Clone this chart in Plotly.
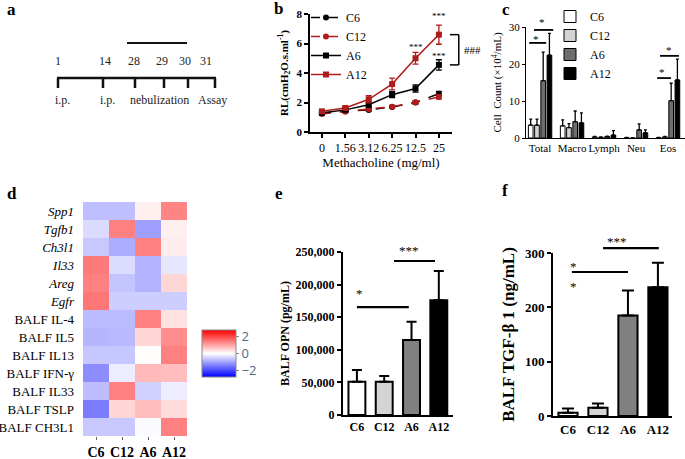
import plotly.graph_objects as go

W, H = 685, 459
SERIF = "Liberation Serif, Times New Roman, serif"

# ---------------- data ----------------
# panel a: protocol timeline
tl_days = ["1", "14", "28", "29", "30", "31"]
tl_events = ["i.p.", "i.p.", "nebulization", "Assay"]

# panel b: airway resistance
mch_doses = ["0", "1.56", "3.12", "6.25", "12.5", "25"]
rl_C6 = [1.30, 1.42, 1.50, 1.70, 2.00, 2.60]
rl_C12 = [1.22, 1.38, 1.55, 1.72, 2.02, 2.38]
rl_A6 = [1.29, 1.50, 1.85, 2.53, 2.95, 4.55]
rl_A12 = [1.40, 1.63, 2.22, 3.25, 5.00, 6.60]
rl_C6_err = [0.08, 0.08, 0.08, 0.08, 0.10, 0.15]
rl_C12_err = [0.08, 0.08, 0.08, 0.08, 0.10, 0.15]
rl_A6_err = [0.08, 0.10, 0.15, 0.20, 0.25, 0.35]
rl_A12_err = [0.08, 0.10, 0.25, 0.40, 0.40, 0.65]

# panel c: BALF cell counts
cell_types = ["Total", "Macro", "Lymph", "Neu", "Eos"]
cc_C6 = [3.5, 3.3, 0.3, 0.1, 0.1]
cc_C12 = [3.5, 2.8, 0.2, 0.0, 0.3]
cc_A6 = [15.5, 4.4, 0.4, 2.2, 10.1]
cc_A12 = [22.4, 4.1, 0.8, 1.4, 15.7]
cc_C6_err = [1.6, 1.6, 0.1, 0.05, 0.05]
cc_C12_err = [1.6, 1.1, 0.1, 0.0, 0.1]
cc_A6_err = [7.7, 2.9, 0.1, 1.6, 4.7]
cc_A12_err = [5.9, 2.7, 1.2, 0.8, 5.6]

# panel d: heatmap
groups = ["C6", "C12", "A6", "A12"]
hm_rows = ["Spp1", "Tgfb1", "Ch3l1", "Il33", "Areg", "Egfr",
           "BALF IL-4", "BALF IL5", "BALF IL13", "BALF IFN-γ",
           "BALF IL33", "BALF TSLP", "BALF CH3L1"]
hm_italic = [True, True, True, True, True, True,
             False, False, False, False, False, False, False]
hm_z = [
    [-0.70, -0.70, 0.16, 1.35],
    [-0.40, 1.40, -1.05, 0.16],
    [-0.60, -0.90, 1.40, 0.20],
    [1.45, -0.38, -0.85, -0.27],
    [1.40, -0.65, -0.85, 0.45],
    [1.50, -0.55, -0.55, -0.55],
    [-0.75, -0.75, 1.40, 0.33],
    [-0.80, -0.77, 0.45, 1.25],
    [-0.62, -0.62, 0.03, 1.40],
    [-1.25, -0.20, 0.77, 0.72],
    [-0.72, 1.40, -0.50, -0.20],
    [-1.45, 0.45, 0.72, 0.38],
    [-0.60, -0.60, -0.05, 1.40],
]

# panel e: BALF OPN
opn = [51000, 51000, 115000, 176000]
opn_err = [18000, 9000, 28000, 45000]

# panel f: BALF TGF-b1
tgf = [6, 15, 185, 237]
tgf_err = [8, 8, 46, 45]

# ---------------- layout geometry (pixels) ----------------
geo = {
    "b": dict(xpx=(310, 452), xr=(-0.51, 5.56), ypx=(132, 14), yr=(0, 8)),
    "c": dict(xpx=(526, 685), xr=(-0.44, 4.53), ypx=(138, 27), yr=(0, 30)),
    "e": dict(xpx=(343, 453), xr=(-0.51, 3.52), ypx=(415, 252), yr=(0, 250000)),
    "f": dict(xpx=(553, 672), xr=(-0.50, 3.47), ypx=(416, 253), yr=(0, 300)),
}


def fx(px):
    return px / W


def fy(py):
    return 1 - py / H


def dom(p):
    g = geo[p]
    return [fx(g["xpx"][0]), fx(g["xpx"][1])], [fy(g["ypx"][0]), fy(g["ypx"][1])]


def to_px(p, c, v):
    g = geo[p]
    x = g["xpx"][0] + (c - g["xr"][0]) / (g["xr"][1] - g["xr"][0]) * (g["xpx"][1] - g["xpx"][0])
    y = g["ypx"][0] + (v - g["yr"][0]) / (g["yr"][1] - g["yr"][0]) * (g["ypx"][1] - g["ypx"][0])
    return x, y


fig = go.Figure()
shapes = []
annos = []

# ---------------- panel a ----------------
tick_x = [58, 103, 135, 164, 188, 215]
day_x = [58, 105, 134, 162, 185, 206]
ev_x = [62, 107, 159, 213]
base_y = 78
shapes.append(dict(type="line", xref="paper", yref="paper",
                   x0=fx(tick_x[0] - 1), x1=fx(tick_x[-1] + 1), y0=fy(base_y), y1=fy(base_y),
                   line=dict(color="#111", width=2.5)))
for tx in tick_x:
    shapes.append(dict(type="line", xref="paper", yref="paper",
                       x0=fx(tx), x1=fx(tx), y0=fy(base_y), y1=fy(base_y + 10),
                       line=dict(color="#111", width=2.5)))
shapes.append(dict(type="line", xref="paper", yref="paper",
                   x0=fx(127), x1=fx(187), y0=fy(43), y1=fy(43),
                   line=dict(color="#111", width=2)))
for d, dx in zip(tl_days, day_x):
    annos.append(dict(x=fx(dx), y=fy(61), xref="paper", yref="paper", text=d, showarrow=False,
                      xanchor="center", yanchor="middle", font=dict(family=SERIF, size=12, color="#222")))
for e, ex in zip(tl_events, ev_x):
    annos.append(dict(x=fx(ex), y=fy(100), xref="paper", yref="paper", text=e, showarrow=False,
                      xanchor="center", yanchor="middle", font=dict(family=SERIF, size=12, color="#222")))

# ---------------- panel b ----------------
RED = "#b01c1c"
b_series = [
    ("C6", rl_C6, rl_C6_err, "black", "dash", "circle"),
    ("C12", rl_C12, rl_C12_err, RED, "dash", "circle"),
    ("A6", rl_A6, rl_A6_err, "black", "solid", "square"),
    ("A12", rl_A12, rl_A12_err, RED, "solid", "square"),
]
for name, ys, es, col, dash, sym in b_series:
    fig.add_trace(go.Scatter(
        x=mch_doses, y=ys, name=name, mode="lines+markers",
        line=dict(color=col, width=1.5, dash=dash),
        marker=dict(symbol=sym, size=6, color=col),
        error_y=dict(type="data", array=es, color=col, thickness=1.3, width=3),
        xaxis="x2", yaxis="y2", legend="legend"))

# ---------------- panel c ----------------
c_series = [
    ("C6", cc_C6, cc_C6_err, "white"),
    ("C12", cc_C12, cc_C12_err, "#d4d4d4"),
    ("A6", cc_A6, cc_A6_err, "#6e6e6e"),
    ("A12", cc_A12, cc_A12_err, "black"),
]
for name, ys, es, col in c_series:
    fig.add_trace(go.Bar(
        x=cell_types, y=ys, name=name,
        marker=dict(color=col, line=dict(color="black", width=1)),
        error_y=dict(type="data", array=es, arrayminus=[0] * len(es), symmetric=False,
                     color="black", thickness=1.3, width=1.5),
        xaxis="x3", yaxis="y3", legend="legend2"))

# ---------------- panel d ----------------
hm_ticktext = [f"<i>{r}</i>" if it else r for r, it in zip(hm_rows, hm_italic)]
fig.add_trace(go.Heatmap(
    z=hm_z, x=groups, y=hm_rows, xaxis="x4", yaxis="y4",
    colorscale=[[0, "#0000ff"], [0.5, "#ffffff"], [1, "#ff0000"]],
    zmin=-2.8, zmax=2.8, showscale=True,
    colorbar=dict(x=fx(202), xanchor="left", y=fy(353.5), yanchor="middle",
                  len=47, lenmode="pixels", thickness=34, thicknessmode="pixels",
                  outlinecolor="#888", outlinewidth=1, xpad=0, ypad=0,
                  tickvals=[-2, 0, 2], ticks="outside", ticklen=3, tickcolor="#888",
                  tickfont=dict(family="Open Sans", size=13, color="#506784")),
    showlegend=False))

# ---------------- panel e ----------------
bar_cols = ["white", "#d4d4d4", "#808080", "black"]
fig.add_trace(go.Bar(
    x=groups, y=opn, width=0.62,
    marker=dict(color=bar_cols, line=dict(color="black", width=2)),
    error_y=dict(type="data", array=opn_err, arrayminus=[0] * 4, symmetric=False,
                 color="black", thickness=2, width=5),
    xaxis="x5", yaxis="y5", showlegend=False))

# ---------------- panel f ----------------
fig.add_trace(go.Bar(
    x=groups, y=tgf, width=0.64,
    marker=dict(color=bar_cols, line=dict(color="black", width=2)),
    error_y=dict(type="data", array=tgf_err, arrayminus=[0] * 4, symmetric=False,
                 color="black", thickness=2, width=6),
    xaxis="x6", yaxis="y6", showlegend=False))

# ---------------- significance marks ----------------
sig_lines = [
    ("c", -0.34, 0.19, 25.7, 1.8), ("c", -0.19, 0.41, 29.2, 1.8),
    ("c", 3.66, 4.09, 16.2, 1.8), ("c", 3.75, 4.34, 22.2, 1.8),
    ("e", 0.0, 1.9, 165600, 2.2), ("e", 1.36, 2.86, 236200, 2.2),
    ("f", 0.13, 2.0, 265, 2.2), ("f", 1.17, 3.03, 309, 2.2),
]
for p, c0, c1, v, lw in sig_lines:
    x0, y0 = to_px(p, c0, v)
    x1, _ = to_px(p, c1, v)
    shapes.append(dict(type="line", xref="paper", yref="paper",
                       x0=fx(x0), x1=fx(x1), y0=fy(y0), y1=fy(y0),
                       line=dict(color="black", width=lw)))

sig_text = [
    ("b", 5, 8.07, "***", 9), ("b", 4, 5.97, "***", 9), ("b", 5, 5.36, "***", 9),
    ("c", -0.12, 27.6, "*", 11), ("c", 0.06, 32.2, "*", 11),
    ("c", 3.81, 18.6, "*", 11), ("c", 4.03, 24.6, "*", 11),
    ("e", 0.11, 191700, "*", 13), ("e", 1.9, 257700, "***", 13),
    ("f", 0.17, 283, "*", 13), ("f", 0.17, 245, "*", 13), ("f", 1.63, 328, "***", 13),
]
for p, c, v, t, s in sig_text:
    x, y = to_px(p, c, v)
    annos.append(dict(x=fx(x), y=fy(y + s * 0.3), xref="paper", yref="paper", text=t,
                      showarrow=False, xanchor="center", yanchor="middle",
                      font=dict(family=SERIF, size=s, color="black")))

# bracket between A12 and A6 at the highest dose in panel b
bx0, by0 = to_px("b", 5.47, rl_A12[-1])
bx1, by1 = to_px("b", 5.85, rl_A6[-1])
for yy in (by0, by1):
    shapes.append(dict(type="line", xref="paper", yref="paper", x0=fx(bx0), x1=fx(bx1),
                       y0=fy(yy), y1=fy(yy), line=dict(color="black", width=1.5)))
shapes.append(dict(type="line", xref="paper", yref="paper", x0=fx(bx1), x1=fx(bx1),
                   y0=fy(by0), y1=fy(by1), line=dict(color="black", width=1.5)))
hx, hy = to_px("b", 6.45, (rl_A12[-1] + rl_A6[-1]) / 2)
annos.append(dict(x=fx(hx), y=fy(hy), xref="paper", yref="paper", text="###", showarrow=False,
                  xanchor="center", yanchor="middle", font=dict(family=SERIF, size=11, color="black")))

# panel labels
for lab, lx, ly in [("a", 5, 9), ("b", 272, 8), ("c", 500, 10), ("d", 5, 193), ("e", 273, 193), ("f", 500, 191)]:
    annos.append(dict(x=fx(lx), y=fy(ly), xref="paper", yref="paper", text=f"<b>{lab}</b>",
                      showarrow=False, xanchor="left", yanchor="middle",
                      font=dict(family=SERIF, size=17, color="black")))

# ---------------- axes ----------------
def axis_common(**kw):
    d = dict(showgrid=False, zeroline=False, showline=True, linecolor="black",
             ticks="outside", tickcolor="black", tickangle=0)
    d.update(kw)
    return d


xb, yb = dom("b")
xc, yc = dom("c")
xe, ye = dom("e")
xf, yf = dom("f")

fig.update_layout(
    width=W, height=H, margin=dict(l=0, r=0, t=0, b=0), autosize=False,
    template="none", paper_bgcolor="white", plot_bgcolor="rgba(0,0,0,0)",
    barmode="group", bargap=0.22, bargroupgap=0.25,
    font=dict(family=SERIF, color="black"),
    xaxis=dict(domain=[0, fx(260)], range=[0, 260], visible=False, fixedrange=True),
    yaxis=dict(domain=[fy(180), 1], range=[180, 0], visible=False, fixedrange=True),
    xaxis2=axis_common(domain=xb, anchor="y2", type="category", range=list(geo["b"]["xr"]),
                       linewidth=1.5, ticklen=4, tickwidth=1.5,
                       tickfont=dict(family=SERIF, size=12),
                       title=dict(text="Methacholine (mg/ml)", font=dict(family=SERIF, size=13), standoff=4)),
    yaxis2=axis_common(domain=yb, anchor="x2", range=[0, 8], tickvals=[0, 2, 4, 6, 8],
                       linewidth=1.5, ticklen=4, tickwidth=1.5,
                       tickfont=dict(family=SERIF, size=11, weight="bold"),
                       title=dict(text="<b>RL(cmH<sub>2</sub>O.s.ml<sup>-1</sup>)</b>",
                                  font=dict(family=SERIF, size=11), standoff=6)),
    xaxis3=axis_common(domain=xc, anchor="y3", type="category", range=list(geo["c"]["xr"]),
                       linewidth=1, ticks="", tickfont=dict(family=SERIF, size=11)),
    yaxis3=axis_common(domain=yc, anchor="x3", range=[0, 30], tickvals=[0, 10, 20, 30],
                       linewidth=1, ticklen=3, tickwidth=1,
                       tickfont=dict(family=SERIF, size=11),
                       title=dict(text="Cell  Count (×10<sup>4</sup>/mL)",
                                  font=dict(family=SERIF, size=11), standoff=4)),
    xaxis4=dict(domain=[fx(83), fx(187)], anchor="y4", type="category", showgrid=False,
                zeroline=False, showline=False, ticks="outside", ticklen=3, tickwidth=1,
                tickcolor="#666", tickangle=0, tickfont=dict(family=SERIF, size=14, weight="bold")),
    yaxis4=dict(domain=[fy(436), fy(202)], anchor="x4", type="category", autorange="reversed",
                showgrid=False, zeroline=False, showline=False, ticks="",
                tickvals=hm_rows, ticktext=hm_ticktext, ticklabelstandoff=8,
                tickfont=dict(family=SERIF, size=13)),
    xaxis5=axis_common(domain=xe, anchor="y5", type="category", range=list(geo["e"]["xr"]),
                       linewidth=2, ticks="", tickfont=dict(family=SERIF, size=12, weight="bold")),
    yaxis5=axis_common(domain=ye, anchor="x5", range=[0, 250000],
                       tickvals=[0, 50000, 100000, 150000, 200000, 250000], tickformat=",",
                       linewidth=2, ticklen=4, tickwidth=2,
                       tickfont=dict(family=SERIF, size=12, weight="bold"),
                       title=dict(text="<b>BALF OPN (pg/mL)</b>", font=dict(family=SERIF, size=12), standoff=3)),
    xaxis6=axis_common(domain=xf, anchor="y6", type="category", range=list(geo["f"]["xr"]),
                       linewidth=2, ticks="", tickfont=dict(family=SERIF, size=13, weight="bold")),
    yaxis6=axis_common(domain=yf, anchor="x6", range=[0, 300], tickvals=[0, 100, 200, 300],
                       linewidth=2, ticklen=4, tickwidth=2,
                       tickfont=dict(family=SERIF, size=13, weight="bold"),
                       title=dict(text="<b>BALF TGF-β 1 (ng/mL)</b>", font=dict(family=SERIF, size=17), standoff=6)),
    legend=dict(x=fx(306), y=fy(3), xanchor="left", yanchor="top", bgcolor="rgba(0,0,0,0)",
                font=dict(family=SERIF, size=12), itemwidth=30, tracegroupgap=0),
    legend2=dict(x=fx(550), y=fy(2), xanchor="left", yanchor="top", bgcolor="rgba(0,0,0,0)",
                 font=dict(family=SERIF, size=12), itemwidth=30, tracegroupgap=0),
    shapes=shapes, annotations=annos,
)

fig.write_html(
    "out.html",
    config={"displayModeBar": False},
    post_script="document.body.style.margin='0';document.body.style.padding='0';"
                "document.documentElement.style.overflow='hidden';",
)
